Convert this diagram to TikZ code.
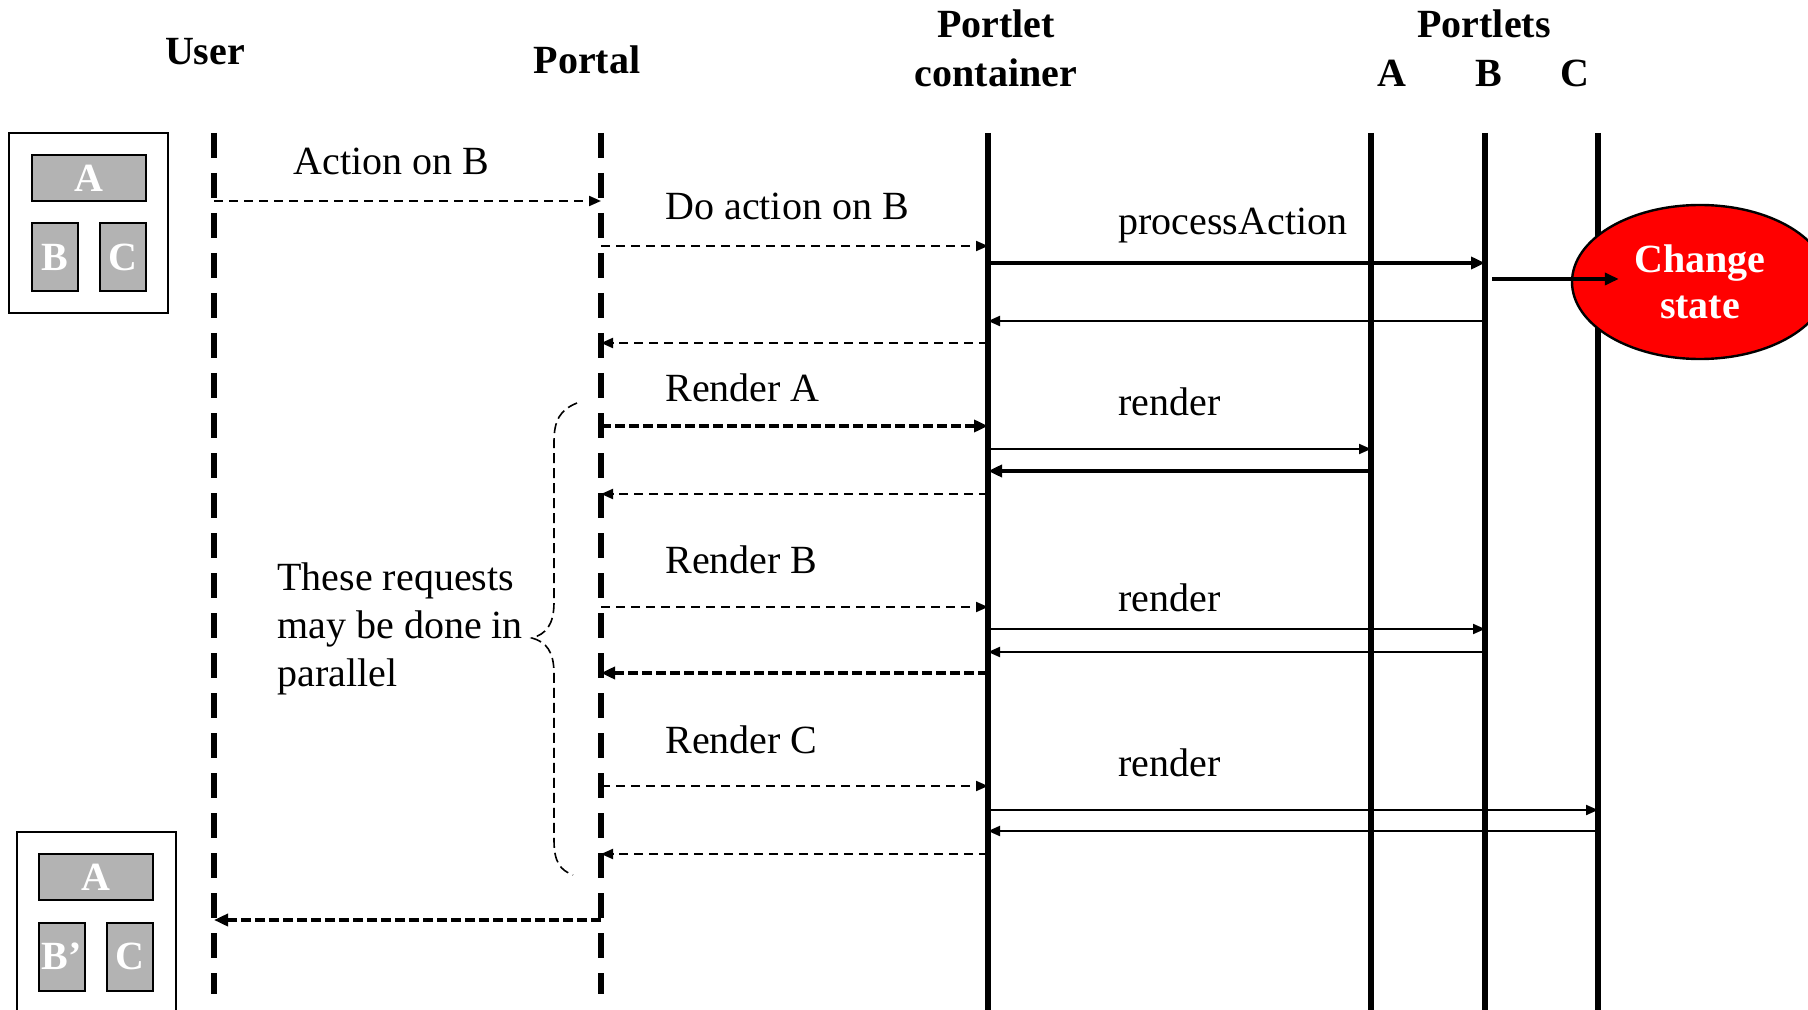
\documentclass[tikz,border=0pt]{standalone}
\usepackage{fontspec}
\setmainfont{Liberation Serif}
\usepackage{xcolor}
\usetikzlibrary{arrows.meta}
\usetikzlibrary{shapes.geometric}

\definecolor{panegray}{HTML}{B3B3B3}
\tikzset{
  lifeline/.style={line width=2.6pt},
  dlifeline/.style={line width=3.4pt,dash pattern=on 12.5pt off 7.5pt},
  msg/.style={line width=1pt,-{Triangle[length=6pt,width=5pt]}},
  dmsg/.style={msg,dash pattern=on 4.5pt off 3pt},
  bmsg/.style={line width=2.4pt,-{Triangle[length=7pt,width=6pt]}},
  bdmsg/.style={line width=2.2pt,dash pattern=on 5pt off 2pt,-{Triangle[length=7pt,width=6pt]}},
  lbl/.style={font=\fontsize{20}{24}\selectfont,inner sep=0pt},
  ttl/.style={font=\fontsize{20}{24.5}\selectfont\bfseries,inner sep=0pt,align=center},
  pane/.style={draw,line width=1pt,fill=panegray,text=white,inner sep=0pt,
    font=\fontsize{20}{24}\selectfont\bfseries},
  wide/.style={pane,minimum width=57pt,minimum height=23pt},
  tall/.style={pane,minimum width=23pt,minimum height=34pt},
}

\begin{document}
\begin{tikzpicture}[x=0.5pt,y=-0.5pt]
  \useasboundingbox (0,0) rectangle (1808,1010);

  \node (tuser) [ttl] at (205,52) {User};
  \node (tportal) [ttl] at (587,60) {Portal};
  \node (tcont) [ttl] at (996,48) {Portlet\\container};
  \node (tlets) [ttl] at (1484,24) {Portlets};
  \node (ta) [ttl] at (1392,73) {A};
  \node (tb) [ttl] at (1489,73) {B};
  \node (tc) [ttl] at (1575,73) {C};

  \coordinate (usr) at (214,133);
  \coordinate (ptl) at (601,133);
  \coordinate (ctr) at (988,133);
  \coordinate (pa) at (1371,133);
  \coordinate (pb) at (1485,133);
  \coordinate (pc) at (1598,133);
  \draw[dlifeline] (usr) -- (usr |- 0,994);
  \draw[dlifeline] (ptl) -- (ptl |- 0,994);
  \draw[lifeline] (ctr) -- (ctr |- 0,1012);
  \draw[lifeline] (pa) -- (pa |- 0,1012);
  \draw[lifeline] (pb) -- (pb |- 0,1012);
  \draw[lifeline] (pc) -- (pc |- 0,1012);

  \draw[line width=1pt] (9,133) rectangle (168,313);
  \node (pa1) [wide] at (89,178) {A};
  \node (pb1) [tall] at (55,257) {B};
  \node (pc1) [tall] at (123,257) {C};
  \draw[line width=1pt] (17,1012) -- (17,832) -- (176,832) -- (176,1012);
  \node (pa2) [wide] at (96,877) {A};
  \node (pb2) [tall] at (61.5,956.5) {B'};
  \node (pc2) [tall] at (130,956.5) {C};

  \node (lact) [lbl,anchor=west] at (293,161) {Action on B};
  \draw[dmsg] (usr |- 0,201) -- (ptl |- 0,201);
  \node (ldo) [lbl,anchor=west] at (665,206) {Do action on B};
  \draw[dmsg] (ptl |- 0,246) -- (ctr |- 0,246);
  \node (lproc) [lbl,anchor=west] at (1118,226) {processAction};
  \draw[bmsg] (ctr |- 0,263) -- (pb |- 0,263);
  \draw[msg] (pb |- 0,321) -- (ctr |- 0,321);
  \draw[dmsg] (ctr |- 0,343) -- (ptl |- 0,343);

  \node (chg) [ellipse,draw,line width=1.2pt,fill=red,text=white,inner sep=0pt,
    minimum width=128pt,minimum height=77pt,align=center,
    font=\fontsize{20}{23}\selectfont\bfseries] at (1700,282) {Change\\state};
  \draw[bmsg] ([xshift=3.5pt]pb |- 0,279) -- ([xshift=24pt]chg.west |- 0,279);

  \node (lra) [lbl,anchor=west] at (665,388) {Render A};
  \draw[bdmsg] (ptl |- 0,426) -- (ctr |- 0,426);
  \node (lrna) [lbl,anchor=west] at (1118,402) {render};
  \draw[msg] (ctr |- 0,449) -- (pa |- 0,449);
  \draw[bmsg] (pa |- 0,471) -- (ctr |- 0,471);
  \draw[dmsg] (ctr |- 0,494) -- (ptl |- 0,494);

  \node (lrb) [lbl,anchor=west] at (665,560) {Render B};
  \draw[dmsg] (ptl |- 0,607) -- (ctr |- 0,607);
  \node (lrnb) [lbl,anchor=west] at (1118,598) {render};
  \draw[msg] (ctr |- 0,629) -- (pb |- 0,629);
  \draw[msg] (pb |- 0,652) -- (ctr |- 0,652);
  \draw[bdmsg] (ctr |- 0,673) -- (ptl |- 0,673);

  \node (lrc) [lbl,anchor=west] at (665,740) {Render C};
  \draw[dmsg] (ptl |- 0,786) -- (ctr |- 0,786);
  \node (lrnc) [lbl,anchor=west] at (1118,763) {render};
  \draw[msg] (ctr |- 0,810) -- (pc |- 0,810);
  \draw[msg] (pc |- 0,831) -- (ctr |- 0,831);
  \draw[dmsg] (ctr |- 0,854) -- (ptl |- 0,854);

  \draw[bdmsg] (ptl |- 0,920) -- (usr |- 0,920);

  \draw[line width=0.8pt,dash pattern=on 5pt off 2.5pt]
    (577,403) .. controls (560,410) and (554,420) .. (554,442) -- (554,602)
    .. controls (554,625) and (546,634) .. (532,638)
    .. controls (546,642) and (554,651) .. (554,674) -- (554,840)
    .. controls (554,862) and (560,870) .. (573,875);
  \node (par) [lbl,anchor=west,align=left] at (277,629)
    {These requests\\may be done in\\parallel};
\end{tikzpicture}
\end{document}
